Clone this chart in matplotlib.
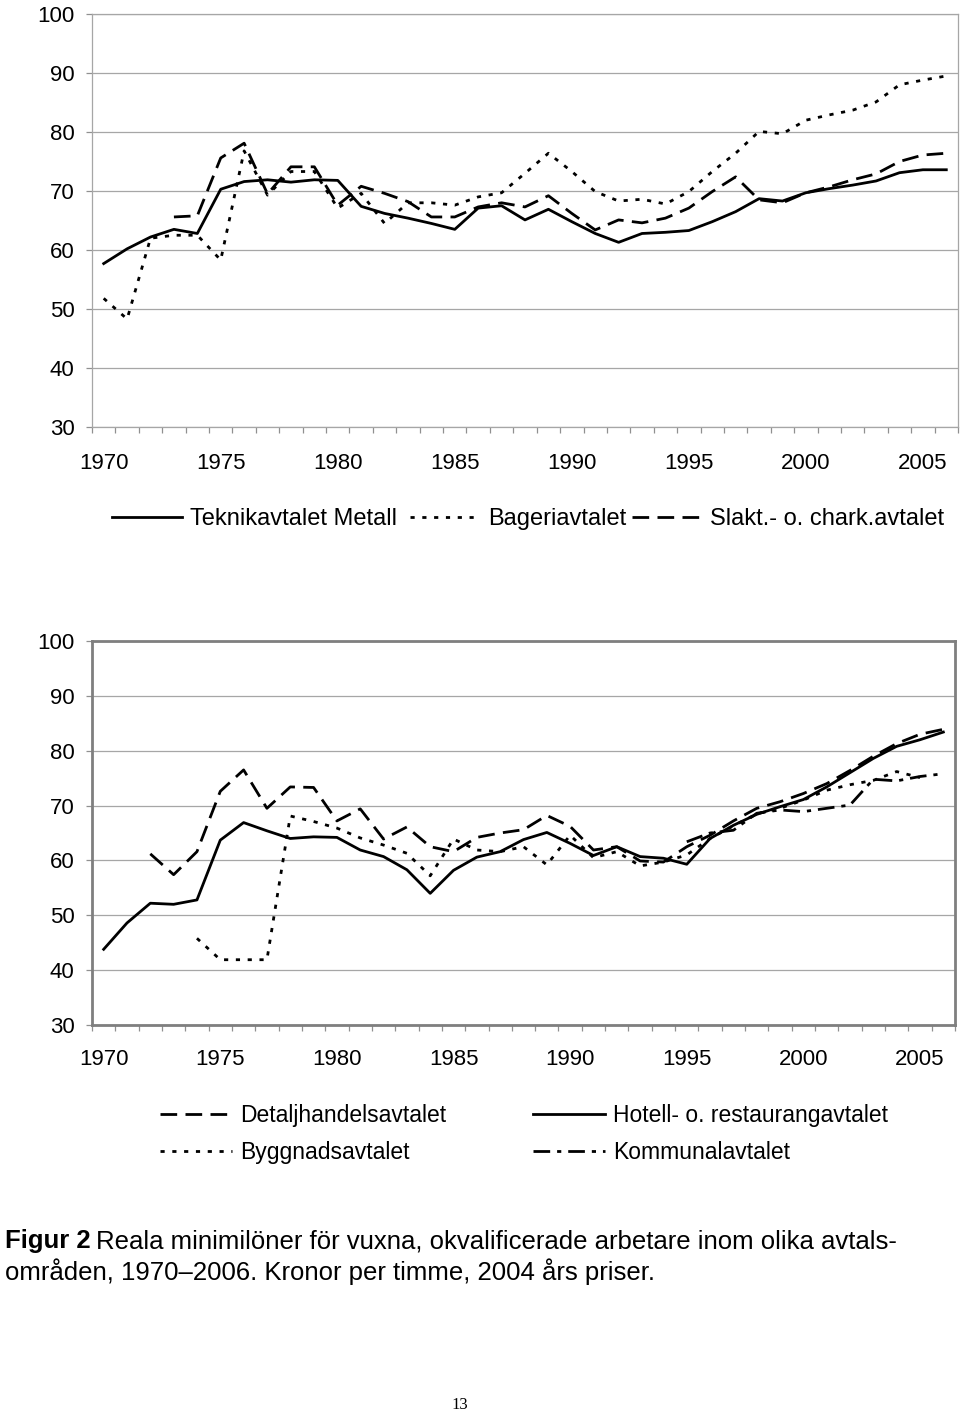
import numpy as np
import matplotlib
matplotlib.use("Agg")
import matplotlib.pyplot as plt

plt.rcParams['font.family'] = ['Liberation Sans', 'DejaVu Sans']
plt.rcParams['lines.scale_dashes'] = False

nan = np.nan
years = list(range(1970, 2007))
tick_years = [str(y) for y in range(1970, 2006, 5)]

# --- top chart ---
metall = [57.7, 60.2, 62.2, 63.5, 62.8, 70.3, 71.6, 71.9, 71.5, 71.9,
          71.8, 67.4, 66.2, 65.4, 64.5, 63.5, 67.1, 67.5, 65.1, 66.9,
          64.8, 62.8, 61.3, 62.8, 63.0, 63.3, 64.8, 66.5, 68.7, 68.3,
          69.7, 70.4, 71.0, 71.7, 73.1, 73.6, 73.6]
bageri = [51.8, 48.3, 62.0, 62.5, 62.5, 58.3, 76.8, 69.3, 73.3, 73.3,
          67.1, 69.6, 64.5, 68.0, 68.0, 67.6, 69.0, 69.7, 73.0, 76.4,
          73.3, 69.9, 68.3, 68.6, 67.8, 69.9, 73.3, 76.4, 80.1, 79.7,
          82.0, 82.9, 83.7, 85.1, 88.0, 88.8, 89.5]
slakt = [nan, nan, nan, 65.6, 65.8, 75.6, 78.1, 69.5, 74.1, 74.1,
         67.6, 70.8, 69.6, 68.2, 65.6, 65.6, 67.3, 68.0, 67.3, 69.2,
         66.2, 63.4, 65.1, 64.6, 65.4, 67.1, 69.9, 72.4, 68.5, 68.0,
         69.7, 70.7, 71.9, 72.9, 75.0, 76.1, 76.4]

# --- bottom chart ---
hotell = [43.8, 48.6, 52.2, 52.0, 52.8, 63.7, 66.9, 65.4, 64.0, 64.3,
          64.2, 61.9, 60.7, 58.3, 54.0, 58.2, 60.6, 61.6, 63.8, 65.1,
          63.1, 60.9, 62.5, 60.7, 60.4, 59.3, 64.0, 66.4, 68.4, 69.8,
          71.1, 73.4, 76.0, 78.6, 80.8, 82.0, 83.4]
detalj = [nan, nan, 61.2, 57.4, 61.6, 72.6, 76.5, 69.5, 73.4, 73.3,
          67.2, 69.4, 63.9, 66.1, 62.5, 61.6, 64.2, 65.0, 65.6, 68.2,
          66.2, 61.9, 62.5, 59.9, 59.7, 62.5, 64.6, 67.2, 69.5, 70.7,
          72.2, 74.0, 76.4, 79.0, 81.3, 83.0, 83.9]
bygg = [nan, nan, nan, nan, 45.8, 41.9, 41.9, 41.9, 68.1, 67.1,
        65.9, 64.1, 62.8, 61.3, 57.2, 63.9, 61.9, 61.6, 62.5, 59.2,
        64.6, 60.5, 61.6, 59.0, 59.7, 61.0, 64.0, 66.3, 68.5, 69.5,
        71.0, 72.8, 73.8, 74.6, 76.2, 75.1, nan]
kommunal = [nan] * 25 + [63.4, 65.0, 65.5, 68.6, 69.2, 68.9, 69.5, 70.1,
                         74.8, 74.5, 75.3, 75.8]

SOLID = '-'
DOTTED = (0, (3, 5.5))
DASHED = (0, (12, 6))
DASHDOT = (0, (12, 5, 3, 5))
LW = 2.0
FS = 16
LFS_TOP = 17
LFS = 16.5

W, H = 960, 1415
fig = plt.figure(figsize=(W / 100, H / 100), dpi=100)
ax1 = fig.add_axes([92 / W, 1 - 427 / H, 866 / W, 413 / H])
ax2 = fig.add_axes([92 / W, 1 - 1025 / H, 863 / W, 384 / H])

x = np.arange(len(years))


def style(ax, spine_color, spine_lw, xpad):
    ax.set_xlim(-0.5, len(years) - 0.5)
    ax.set_ylim(30, 100)
    ax.set_yticks(range(30, 101, 10))
    ax.grid(axis='y', color='#a6a6a6', lw=0.9)
    ax.set_axisbelow(True)
    ax.set_xticks(range(0, len(years), 5))
    ax.set_xticklabels(tick_years)
    ax.set_xticks(np.arange(-0.5, len(years), 1), minor=True)
    ax.tick_params(axis='x', which='major', length=0, pad=xpad, labelsize=FS)
    ax.tick_params(axis='x', which='minor', length=4.5, color='#909090', width=0.9)
    ax.tick_params(axis='y', length=4.5, color='#909090', width=0.9, pad=8, labelsize=FS)
    for s in ax.spines.values():
        s.set_color(spine_color)
        s.set_linewidth(spine_lw)


style(ax1, '#a6a6a6', 0.9, 18.5)
style(ax2, '#7f7f7f', 2.0, 17.5)

h_met, = ax1.plot(x, metall, color='black', lw=LW, ls=SOLID)
h_bag, = ax1.plot(x, bageri, color='black', lw=LW, ls=DOTTED)
h_sla, = ax1.plot(x, slakt, color='black', lw=LW, ls=DASHED)

h_det, = ax2.plot(x, detalj, color='black', lw=LW, ls=DASHED)
h_byg, = ax2.plot(x, bygg, color='black', lw=LW, ls=DOTTED)
h_hot, = ax2.plot(x, hotell, color='black', lw=LW, ls=SOLID)
h_kom, = ax2.plot(x, kommunal, color='black', lw=LW, ls=DASHDOT)

# top legend: one entry per legend, each placed at its own x
top_entries = [(h_met, 'Teknikavtalet Metall', 112),
               (h_bag, 'Bageriavtalet', 410),
               (h_sla, 'Slakt.- o. chark.avtalet', 632)]
for h, lab, px in top_entries:
    fig.legend([h], [lab], loc='center left',
               bbox_to_anchor=(px / W, 1 - 519 / H),
               frameon=False, fontsize=LFS_TOP, borderpad=0, borderaxespad=0,
               handlelength=2.95, handletextpad=0.35)

fig.legend([h_det, h_byg, h_hot, h_kom],
           ['Detaljhandelsavtalet', 'Byggnadsavtalet',
            'Hotell- o. restaurangavtalet', 'Kommunalavtalet'],
           loc='center left', bbox_to_anchor=(160 / W, 1 - 1134 / H),
           ncol=2, frameon=False, fontsize=LFS, borderpad=0, borderaxespad=0,
           handlelength=3.14, handletextpad=0.35, columnspacing=3.8,
           labelspacing=0.62)

# caption
cap_fs = 18.5
t1 = fig.text(5 / W, 1 - 1241 / H, 'Figur 2', fontsize=cap_fs, fontweight='bold',
              va='center', ha='left')
fig.canvas.draw()
r = fig.canvas.get_renderer()
bb = t1.get_window_extent(r)
x_after = (bb.x1 + 5) / W
fig.text(x_after, 1 - 1241 / H,
         'Reala minimilöner för vuxna, okvalificerade arbetare inom olika avtals-',
         fontsize=cap_fs, va='center', ha='left')
fig.text(5 / W, 1 - 1272 / H,
         'områden, 1970–2006. Kronor per timme, 2004 års priser.',
         fontsize=cap_fs, va='center', ha='left')
fig.text(460 / W, 1 - 1405 / H, '13', fontsize=12, family='Liberation Serif',
         va='center', ha='center')

fig.savefig('out.png', dpi=100)
